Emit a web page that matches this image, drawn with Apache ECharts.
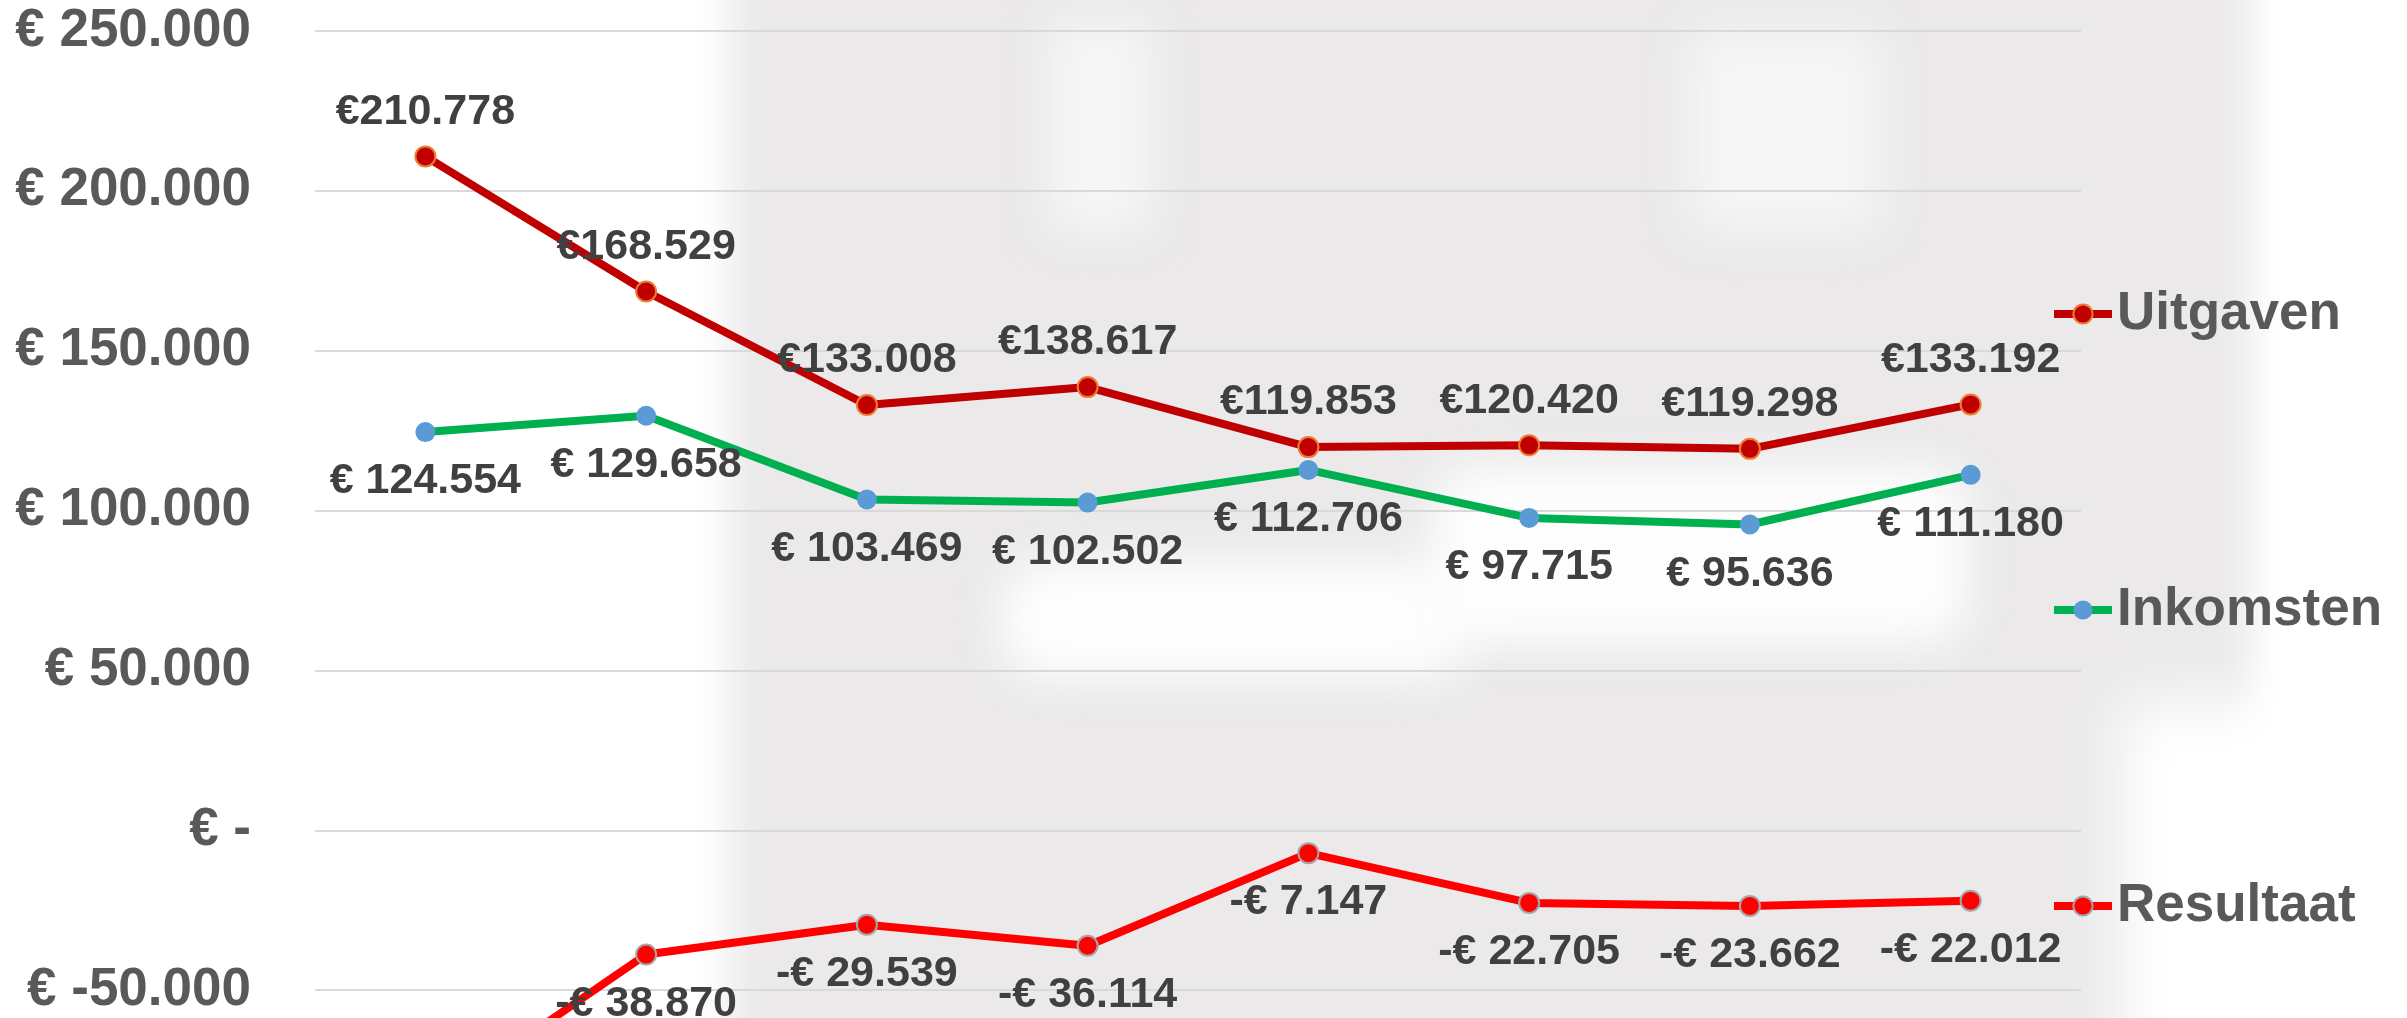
<!DOCTYPE html>
<html>
<head>
<meta charset="utf-8">
<script src="https://cdn.jsdelivr.net/npm/echarts@6/dist/echarts.min.js"></script>
<style>
  html, body { margin:0; padding:0; width:2407px; height:1018px; overflow:hidden; background:#ffffff; }
  #bg { position:absolute; left:0; top:0; width:2407px; height:1018px; overflow:hidden; }
  #bg div { position:absolute; }
  #chart { position:absolute; left:0; top:0; width:2407px; height:1200px; }
</style>
</head>
<body>
<div id="bg">
  <div style="left:730px;top:-60px;width:1520px;height:1150px;background:#EBE9E9;filter:blur(18px);"></div>
  <div style="left:1000px;top:560px;width:470px;height:120px;background:#fdfdfd;filter:blur(22px);border-radius:40px;"></div>
  <div style="left:1430px;top:465px;width:540px;height:180px;background:#fdfdfd;filter:blur(22px);border-radius:40px;"></div>
  <div style="left:1050px;top:20px;width:100px;height:210px;background:#f6f6f6;filter:blur(22px);"></div>
  <div style="left:1690px;top:30px;width:190px;height:200px;background:#f6f6f6;filter:blur(24px);"></div>
  <div style="left:2120px;top:700px;width:200px;height:400px;background:#ffffff;filter:blur(30px);"></div>
</div>
<div id="chart"></div>
<script>
const categories = ['1', '2', '3', '4', '5', '6', '7', '8'];
const uitgaven   = [210778, 168529, 133008, 138617, 119853, 120420, 119298, 133192];
const inkomsten  = [124554, 129658, 103469, 102502, 112706, 97715, 95636, 111180];
const resultaat  = [-86224, -38870, -29539, -36114, -7147, -22705, -23662, -22012];
const yTicks     = [-100000, -50000, 0, 50000, 100000, 150000, 200000, 250000];

const FONT = "'Liberation Sans', Arial, sans-serif";
function grp(n) { return String(Math.round(Math.abs(n))).replace(/\B(?=(\d{3})+(?!\d))/g, '.'); }

const chart = echarts.init(document.getElementById('chart'), null, { renderer: 'canvas' });
const labelBase = { show: true, fontFamily: FONT, fontWeight: 'bold', fontSize: 43, color: '#404040' };

chart.setOption({
  backgroundColor: 'transparent',
  animation: false,
  textStyle: { fontFamily: FONT },
  grid: { left: 315, right: 326, top: 31, height: 1119, containLabel: false, outerBoundsMode: 'none' },
  legend: {
    orient: 'vertical', left: 2045, top: 279,
    itemWidth: 58, itemHeight: 24, itemGap: 236,
    lineStyle: { width: 8 },
    textStyle: { fontFamily: FONT, fontSize: 53, fontWeight: 'bold', color: '#595959', lineHeight: 60 },
    data: ['Uitgaven', 'Inkomsten', 'Resultaat']
  },
  xAxis: {
    type: 'category', data: categories, boundaryGap: true,
    axisLine: { show: false }, axisTick: { show: false }, axisLabel: { show: false }
  },
  yAxis: {
    type: 'value', min: yTicks[0], max: yTicks[yTicks.length - 1], interval: 50000,
    axisLine: { show: false }, axisTick: { show: false },
    splitLine: { lineStyle: { color: '#D9D9D9', width: 2 } },
    axisLabel: {
      margin: 64, fontFamily: FONT, fontSize: 53, fontWeight: 'bold', color: '#595959',
      formatter: v => v === 0 ? '€ -' : (v < 0 ? '€ -' + grp(v) : '€ ' + grp(v))
    }
  },
  series: [
    {
      name: 'Uitgaven', type: 'line', data: uitgaven,
      symbol: 'circle', symbolSize: 20,
      lineStyle: { color: '#C00000', width: 8 },
      itemStyle: { color: '#C00000', borderColor: '#ED7D31', borderWidth: 2 },
      label: Object.assign({}, labelBase, { position: 'top', distance: 12, formatter: p => '€' + grp(p.value) }),
      z: 3
    },
    {
      name: 'Inkomsten', type: 'line', data: inkomsten,
      symbol: 'circle', symbolSize: 20,
      lineStyle: { color: '#00B050', width: 8 },
      itemStyle: { color: '#5B9BD5', borderWidth: 0 },
      label: Object.assign({}, labelBase, { position: 'bottom', distance: 18, formatter: p => '€ ' + grp(p.value) }),
      z: 2
    },
    {
      name: 'Resultaat', type: 'line', data: resultaat,
      symbol: 'circle', symbolSize: 20,
      lineStyle: { color: '#FF0000', width: 8 },
      itemStyle: { color: '#FF0000', borderColor: '#A5A5A5', borderWidth: 2 },
      label: Object.assign({}, labelBase, { position: 'bottom', distance: 17, formatter: p => (p.value < 0 ? '-€ ' : '€ ') + grp(p.value) }),
      z: 2
    }
  ]
});
</script>
</body>
</html>
